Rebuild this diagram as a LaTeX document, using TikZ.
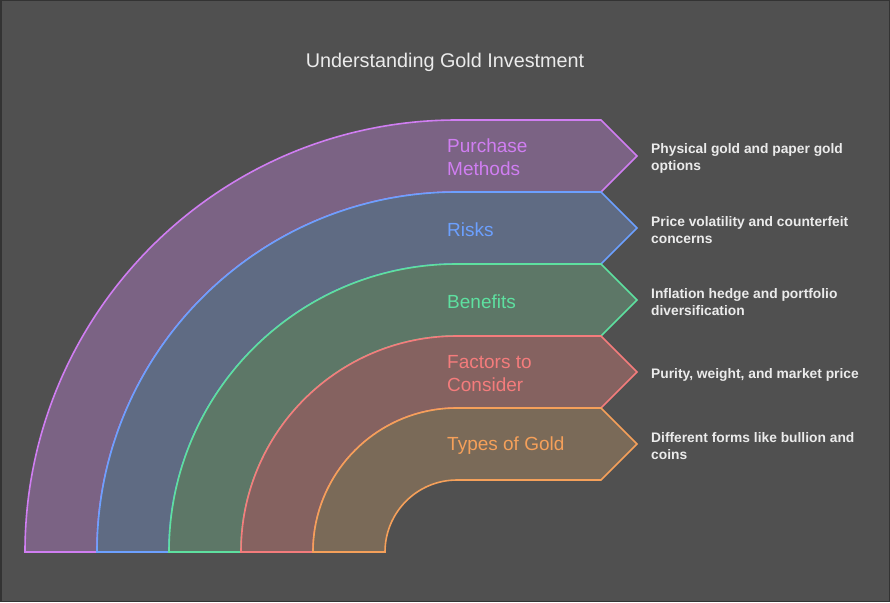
\documentclass[tikz,border=0pt]{standalone}
\usepackage{fontspec}
\setmainfont{Liberation Sans}
\definecolor{bg}{HTML}{505050}
\definecolor{frame}{HTML}{333333}
\definecolor{pS}{HTML}{D07EF2}\definecolor{pF}{HTML}{7B6384}
\definecolor{bS}{HTML}{6CA0FF}\definecolor{bF}{HTML}{5F6B83}
\definecolor{gS}{HTML}{5EE0A0}\definecolor{gF}{HTML}{5D7767}
\definecolor{rS}{HTML}{F47C7C}\definecolor{rF}{HTML}{856260}
\definecolor{oS}{HTML}{F5A05A}\definecolor{oF}{HTML}{7A6A58}
\tikzset{
  band/.style={line width=1.6pt, line join=miter},
  lab/.style={anchor=west, align=left, font=\fontsize{19}{23.5}\selectfont, inner sep=0pt},
  desc/.style={anchor=west, align=left, text=white!92!black, font=\fontsize{13.8}{17}\selectfont\bfseries, inner sep=0pt},
}
\newcommand{\bandshape}[3]{% k, stroke, fill
  \pgfmathsetmacro{\ro}{72*(#1+1)}
  \pgfmathsetmacro{\ri}{72*#1}
  \pgfmathsetmacro{\rm}{(\ro+\ri)/2}
  \draw[band, draw=#2, fill=#3] (457-\ro,-552) arc[start angle=180, end angle=90, radius=\ro]
    -- (601,-552+\ro) -- (637,-552+\rm) -- (601,-552+\ri) -- (457,-552+\ri)
    arc[start angle=90, end angle=180, radius=\ri] -- cycle;
}
\begin{document}
\begin{tikzpicture}[x=1pt,y=1pt]
\fill[bg] (0,0) rectangle (890,-602);
\draw[frame, line width=1.5pt] (0.75,-0.75) rectangle (889.25,-601.25);
\useasboundingbox (0,0) rectangle (890,-602);
\node[text=white!92!black, font=\fontsize{19.8}{24}\selectfont] (title) at (445,-62.5) {Understanding Gold Investment};
\bandshape{5}{pS}{pF}
\bandshape{4}{bS}{bF}
\bandshape{3}{gS}{gF}
\bandshape{2}{rS}{rF}
\bandshape{1}{oS}{oF}
\node[lab, text=pS] (l5) at (447,-157) {Purchase\\Methods};
\node[lab, text=bS] (l4) at (447,-229.5) {Risks};
\node[lab, text=gS] (l3) at (447,-301.5) {Benefits};
\node[lab, text=rS] (l2) at (447,-373.5) {Factors to\\Consider};
\node[lab, text=oS] (l1) at (447,-445.5) {Types of Gold};
\node[desc] (d5) at (651,-158.5) {Physical gold and paper gold\\options};
\node[desc] (d4) at (651,-230.5) {Price volatility and counterfeit\\concerns};
\node[desc] (d3) at (651,-302.5) {Inflation hedge and portfolio\\diversification};
\node[desc] (d2) at (651,-374.5) {Purity, weight, and market price};
\node[desc] (d1) at (651,-446) {Different forms like bullion and\\coins};
\end{tikzpicture}
\end{document}
